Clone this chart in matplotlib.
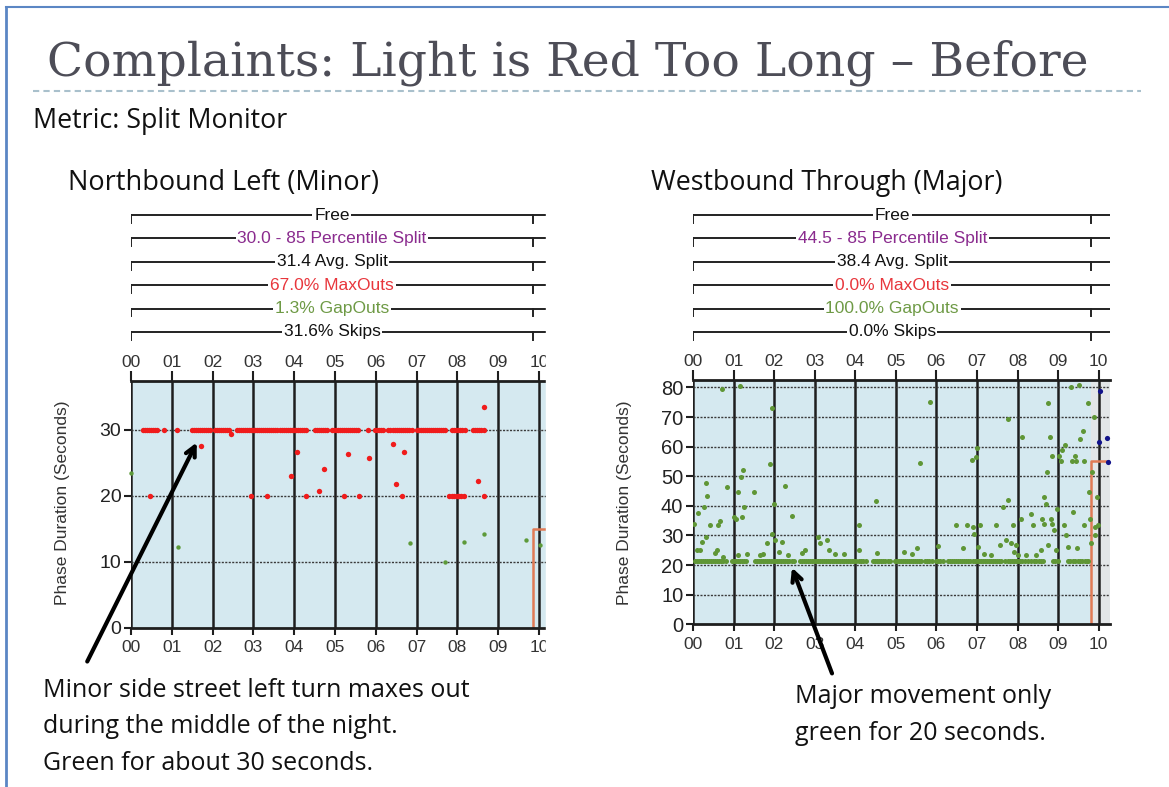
import matplotlib
matplotlib.use('Agg')
import matplotlib.pyplot as plt

W, H = 1169, 787
plt.rcParams['font.family'] = ['Liberation Sans Narrow', 'Liberation Sans', 'DejaVu Sans']

hours = list(range(11))
hour_labels = ['%02d' % h for h in hours]

row_colors = ['#111111', '#8a2b8e', '#111111', '#e8363c', '#6e9a45', '#111111']

# ---- Northbound Left (Minor) ----
nb_rows = ['Free', '30.0 - 85 Percentile Split', '31.4 Avg. Split',
           '67.0% MaxOuts', '1.3% GapOuts', '31.6% Skips']
nb_yticks = [0, 10, 20, 30]
nb_red30_x = [0.30, 0.35, 0.40, 0.45, 0.50, 0.55, 0.60, 0.63, 0.82, 1.12,
              1.49, 1.54, 1.59, 1.64, 1.69, 1.74, 1.79, 1.84, 1.89, 1.94,
              2.06, 2.11, 2.16, 2.21, 2.26, 2.31, 2.36, 2.41,
              2.59, 2.64, 2.69, 2.74, 2.79, 2.84, 2.89, 2.94, 2.99, 3.04, 3.09,
              3.14, 3.19, 3.24, 3.29, 3.34, 3.39, 3.44, 3.49, 3.54, 3.59, 3.64,
              3.69, 3.74, 3.79, 3.84, 3.89, 3.94, 3.99, 4.04, 4.09, 4.14, 4.19,
              4.24, 4.30,
              4.51, 4.56, 4.61, 4.66, 4.71, 4.76, 4.81,
              4.92, 4.97, 5.02, 5.07, 5.12, 5.17, 5.22, 5.27, 5.32, 5.37, 5.42,
              5.47, 5.52, 5.57, 5.82, 5.98, 6.03, 6.08, 6.13, 6.18,
              6.31, 6.36, 6.41, 6.46, 6.51, 6.56, 6.61, 6.66, 6.71, 6.76, 6.81, 6.88,
              7.00, 7.05, 7.10, 7.15, 7.20, 7.25, 7.30, 7.35, 7.40, 7.45, 7.50,
              7.55, 7.60, 7.65, 7.70,
              7.86, 7.91, 7.96, 8.01, 8.06, 8.11, 8.19,
              8.39, 8.44, 8.49, 8.54, 8.59, 8.64]
nb_red_other_x = [0.47, 1.71, 2.45, 2.94, 3.33, 3.91, 4.08, 4.29, 4.62, 4.73,
                  5.23, 5.31, 5.60, 5.83, 6.41, 6.49, 6.65, 6.69,
                  7.80, 7.86, 7.92, 7.98, 8.04, 8.10, 8.15, 8.51, 8.64, 8.64]
nb_red_other_y = [20, 27.5, 29.3, 20, 20, 23, 26.7, 20, 20.8, 24,
                  20, 26.3, 20, 25.8, 27.9, 21.8, 20, 26.7,
                  20, 20, 20, 20, 20, 20, 20, 22.3, 20, 33.4]
nb_green_x = [0.0, 1.14, 6.84, 7.70, 8.16, 8.66, 9.67, 10.02]
nb_green_y = [23.4, 12.2, 12.9, 10.0, 13.0, 14.3, 13.3, 12.6]
nb_next_x, nb_next_y = 9.85, 15

# ---- Westbound Through (Major) ----
wb_rows = ['Free', '44.5 - 85 Percentile Split', '38.4 Avg. Split',
           '0.0% MaxOuts', '100.0% GapOuts', '0.0% Skips']
wb_yticks = [0, 10, 20, 30, 40, 50, 60, 70, 80]
wb_base_x = [0.04, 0.09, 0.14, 0.19, 0.24, 0.29, 0.34, 0.39, 0.44, 0.49, 0.54,
             0.59, 0.64, 0.69, 0.74, 0.82,
             0.95, 1.00, 1.05, 1.10, 1.15, 1.20, 1.25, 1.31,
             1.52, 1.57, 1.62, 1.67, 1.72, 1.77, 1.82, 1.87, 1.92, 1.97, 2.02,
             2.07, 2.12, 2.17, 2.22, 2.27, 2.32, 2.37, 2.43, 2.50,
             2.63, 2.68, 2.73, 2.78, 2.83, 2.88, 2.93, 2.98, 3.03, 3.08, 3.13,
             3.18, 3.23, 3.28, 3.33, 3.38, 3.43, 3.48, 3.53, 3.58, 3.63, 3.68,
             3.73, 3.78, 3.83, 3.88, 3.93, 3.98, 4.03, 4.08, 4.13, 4.20, 4.27,
             4.44, 4.49, 4.54, 4.59, 4.64, 4.69, 4.74, 4.80, 4.85,
             4.97, 5.02, 5.07, 5.12, 5.17, 5.22, 5.27, 5.32, 5.37, 5.42, 5.47,
             5.52, 5.57, 5.63, 5.71, 5.77, 5.82, 5.88, 6.00, 6.05, 6.10, 6.16,
             6.29, 6.34, 6.39, 6.44, 6.49, 6.54, 6.59, 6.64, 6.69, 6.74, 6.79,
             6.84, 6.89, 6.94, 6.99, 7.04, 7.09, 7.14, 7.19, 7.24, 7.29, 7.34,
             7.39, 7.44, 7.49, 7.54, 7.59, 7.68,
             7.77, 7.82, 7.87, 7.92, 7.97, 8.02, 8.07, 8.12, 8.19, 8.26,
             8.34, 8.40, 8.46, 8.52, 8.58, 8.63, 8.87, 8.93, 9.00,
             9.24, 9.30, 9.36, 9.42, 9.48, 9.54, 9.60, 9.66, 9.70, 9.74]
wb_base_y = 21.4
wb_scatter_x = [0.02, 0.10, 0.12, 0.18, 0.23, 0.27, 0.31, 0.34, 0.33, 0.41, 0.53,
                0.59, 0.62, 0.67, 0.71, 0.74, 0.84, 1.00, 1.07, 1.12, 1.17, 1.19,
                1.23, 1.26, 1.22, 1.11, 1.32, 1.50, 1.64, 1.73, 1.83, 1.91, 1.94,
                1.95, 2.00, 2.03, 2.13, 2.19, 2.27, 2.34, 2.45, 2.69, 2.77, 3.08,
                3.12, 3.30, 3.35, 3.51, 3.72, 4.08, 4.10, 4.50, 4.54, 5.20, 5.40,
                5.53, 5.60, 5.83, 6.04, 6.49, 6.65, 6.75, 6.87, 6.90, 6.92, 6.98,
                7.00, 7.02, 7.08, 7.18, 7.34, 7.47, 7.56, 7.64, 7.72, 7.76, 7.77,
                7.83, 7.89, 7.91, 7.97, 8.00, 8.08, 8.12, 8.20, 8.32, 8.38, 8.45,
                8.57, 8.61, 8.64, 8.66, 8.69, 8.73, 8.76, 8.76, 8.80, 8.82, 8.84,
                8.86, 8.90, 8.94, 8.98, 9.02, 9.06, 9.10, 9.14, 9.18, 9.20, 9.25,
                9.31, 9.35, 9.37, 9.41, 9.45, 9.47, 9.51, 9.55, 9.61, 9.63, 9.63,
                9.74, 9.76, 9.79, 9.82, 9.84, 9.88, 9.90, 9.92, 9.96, 9.98]
wb_scatter_y = [34.0, 25.0, 37.6, 25.0, 27.8, 39.6, 47.7, 43.2, 29.5, 33.4, 24.1,
                25.0, 33.4, 34.9, 79.5, 22.8, 46.4, 36.3, 35.7, 44.7, 80.5, 49.7,
                52.0, 39.6, 36.3, 23.3, 23.9, 44.7, 23.3, 23.9, 27.3, 54.2, 73.1,
                30.6, 40.5, 28.4, 24.5, 27.7, 46.6, 23.3, 36.5, 24.1, 25.0, 29.5,
                27.5, 28.4, 25.0, 23.9, 23.9, 33.4, 25.0, 41.5, 24.1, 24.5, 23.7,
                25.6, 54.4, 75.2, 26.4, 33.4, 25.6, 33.4, 55.6, 32.9, 30.6, 56.5,
                59.6, 26.2, 33.4, 23.9, 23.3, 33.4, 26.9, 39.6, 28.6, 42.1, 69.4,
                27.3, 33.4, 24.5, 26.7, 23.3, 35.7, 63.2, 23.3, 37.1, 33.4, 23.3,
                25.0, 35.7, 34.0, 43.0, 40.7, 51.6, 74.7, 26.7, 63.2, 35.7, 33.8,
                57.0, 31.8, 25.0, 39.1, 57.0, 55.3, 58.7, 33.4, 60.4, 30.1, 26.2,
                80.2, 55.3, 37.9, 57.0, 55.3, 25.6, 80.9, 62.6, 65.2, 55.3, 33.4,
                74.6, 44.7, 35.7, 27.3, 51.4, 69.9, 30.1, 32.9, 43.0, 33.4]
wb_blue_x = [10.04, 10.00, 10.20, 10.23]
wb_blue_y = [78.9, 61.7, 62.8, 54.8]
wb_next_x, wb_next_y = 9.82, 55

fig = plt.figure(figsize=(W / 100, H / 100), dpi=100)


def px_box(x, y_top, w, h):
    return [x / W, 1 - (y_top + h) / H, w / W, h / H]


def panel(x0, per_h, xmax, y_top, y_zero, ymax, yticks, rows, next_x, next_y, ysize, grey):
    ax = fig.add_axes(px_box(x0, y_top, per_h * xmax, y_zero - y_top))
    ax.set_xlim(0, xmax)
    ax.set_ylim(0, ymax)
    ax.set_facecolor('#d5e9f0')
    if grey:
        ax.axvspan(next_x, xmax, color='#e3e6e8', lw=0, zorder=0)
    for h in hours:
        ax.axvline(h, color='#1e1e1e', lw=1.8, zorder=1)
    for v in yticks[1:]:
        ax.axhline(v, color='#3a3a3a', lw=1.0, ls=(0, (1.5, 1)), zorder=1)
    ax.plot([next_x, next_x, xmax], [0, next_y, next_y], color='#e07a55', lw=1.8, zorder=2)
    for s in ['left', 'right']:
        ax.spines[s].set_visible(False)
    for s in ['top', 'bottom']:
        ax.spines[s].set_linewidth(2)
        ax.spines[s].set_color('#1e1e1e')
    ax.set_xticks(hours)
    ax.set_xticklabels(hour_labels)
    ax.set_yticks(yticks)
    ax.tick_params(axis='x', direction='out', length=5, width=1.5, color='#1e1e1e',
                   labelsize=12.5, labelcolor='#333333', pad=4)
    ax.tick_params(axis='y', direction='out', length=5, width=1.5, color='#1e1e1e',
                   labelsize=ysize, labelcolor='#222222', pad=2)
    top = ax.secondary_xaxis('top')
    top.set_xticks(hours)
    top.set_xticklabels(hour_labels)
    top.spines['top'].set_visible(False)
    top.tick_params(direction='out', length=7, width=1.5, color='#1e1e1e',
                    labelsize=12.5, labelcolor='#333333', pad=1)

    # bracket rows above the chart
    step = 23.4
    bx = fig.add_axes(px_box(x0, 215 - step / 2, per_h * xmax, step * 6))
    bx.set_xlim(0, xmax)
    bx.set_ylim(5.5, -0.5)
    bx.axis('off')
    for i, (label, col) in enumerate(zip(rows, row_colors)):
        bx.plot([0, xmax], [i, i], color='#222222', lw=1.4)
        bx.plot([0, 0], [i, i + 0.33], color='#222222', lw=1.4)
        bx.plot([next_x, next_x], [i, i + 0.33], color='#222222', lw=1.4)
        bx.text(next_x / 2, i, label, ha='center', va='center', color=col, fontsize=12.5,
                bbox=dict(facecolor='white', edgecolor='none', pad=1.2))
    return ax


ax1 = panel(131, 40.8, 10.2, 381, 628, 37.4, nb_yticks, nb_rows, nb_next_x, nb_next_y, 14, False)
ax1.scatter(nb_red30_x, [30] * len(nb_red30_x), s=15, color='#f01c1c', zorder=3, lw=0)
ax1.scatter(nb_red_other_x, nb_red_other_y, s=15, color='#f01c1c', zorder=3, lw=0)
ax1.scatter(nb_green_x, nb_green_y, s=10, color='#5d9a3a', zorder=3, lw=0, clip_on=False)

ax2 = panel(693, 40.57, 10.27, 380, 624.3, 82.5, wb_yticks, wb_rows, wb_next_x, wb_next_y, 14.5, True)
ax2.scatter(wb_base_x, [wb_base_y] * len(wb_base_x), s=13, color='#5f9636', zorder=3, lw=0)
ax2.scatter(wb_scatter_x, wb_scatter_y, s=13, color='#5f9636', zorder=3, lw=0)
ax2.scatter(wb_blue_x, wb_blue_y, s=14, color='#12128a', zorder=3, lw=0, clip_on=False)

# slide overlay in pixel coordinates
ov = fig.add_axes([0, 0, 1, 1], zorder=5)
ov.set_xlim(0, W)
ov.set_ylim(H, 0)
ov.axis('off')
ov.patch.set_visible(False)

ov.add_patch(plt.Rectangle((546, 195), 60, 470, color='white', zorder=1))
ov.plot([6, W], [7, 7], color='#5b86c4', lw=1.5)
ov.plot([6, 6], [7, H], color='#5b86c4', lw=2)
ov.plot([33, 1141], [91, 91], color='#a9c0cc', lw=1.5, ls=(0, (3, 2)))

ov.text(47, 75, 'Complaints: Light is Red Too Long \u2013 Before', family='DejaVu Serif',
        fontsize=34, color='#4d4d57', va='baseline')
body = 'Open Sans'
ov.text(33, 128, 'Metric: Split Monitor', family=body, fontsize=19.3, color='#111111', va='baseline')
ov.text(68, 190, 'Northbound Left (Minor)', family=body, fontsize=19.5, color='#111111', va='baseline')
ov.text(651, 190, 'Westbound Through (Major)', family=body, fontsize=19.3, color='#111111', va='baseline')

for xl in [63, 624]:
    ov.text(xl, 503, 'Phase Duration (Seconds)', rotation=90, ha='center', va='center',
            fontsize=12.5, color='#333333')

ov.text(43, 697, 'Minor side street left turn maxes out', family=body, fontsize=18,
        color='#111111', va='baseline')
ov.text(43, 733, 'during the middle of the night.', family=body, fontsize=18,
        color='#111111', va='baseline')
ov.text(43, 770, 'Green for about 30 seconds.', family=body, fontsize=18,
        color='#111111', va='baseline')
ov.text(795, 703, 'Major movement only', family=body, fontsize=18, color='#111111', va='baseline')
ov.text(795, 740, 'green for 20 seconds.', family=body, fontsize=18, color='#111111', va='baseline')

arrow = dict(arrowstyle='->,head_length=0.7,head_width=0.35', color='black', lw=3)
ov.annotate('', xy=(198, 440), xytext=(86, 664), arrowprops=arrow)
ov.annotate('', xy=(791, 565), xytext=(833, 676), arrowprops=arrow)

fig.savefig('out.png', dpi=100)
